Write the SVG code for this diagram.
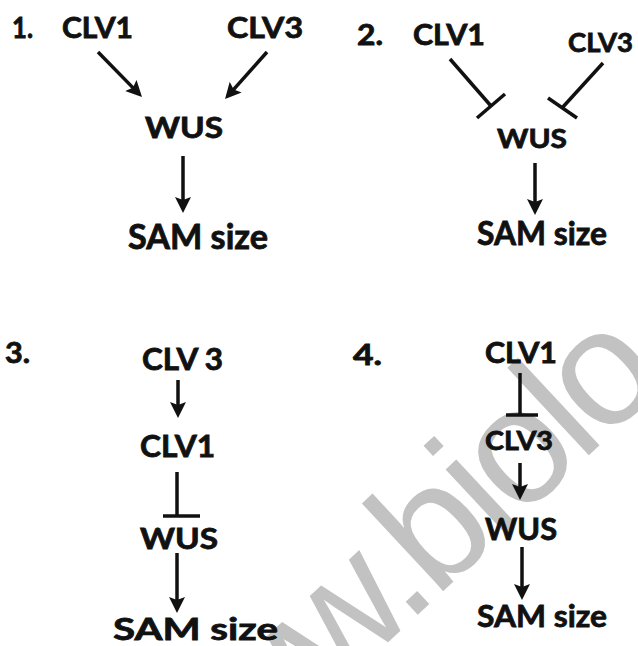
<svg xmlns="http://www.w3.org/2000/svg" width="638" height="646" viewBox="0 0 638 646">
<style>
  .lbl { font-family: Lato, "Liberation Sans", sans-serif; font-weight: bold; fill: #111; stroke: #111; stroke-width: 0.8; }
  .edge { stroke: #111; stroke-width: 3.5; fill: none; stroke-linecap: butt; }
  .arrow { marker-end: url(#ah); }
  .wm { font-family: "Liberation Sans", Arial, sans-serif; fill: #c2c2c2; }
</style>
<defs>
  <marker id="ah" viewBox="0 0 16 16" refX="12" refY="8" markerWidth="16" markerHeight="16" markerUnits="userSpaceOnUse" orient="auto">
    <path d="M0,0 L16,8 L0,16 L3,8 z" fill="#111"/>
  </marker>
</defs>
<rect width="638" height="646" fill="#ffffff"/>
<text class="wm" font-size="165" letter-spacing="-7" transform="translate(167.3,848.3) rotate(-43)">www.biolo</text>

<g id="panel1">
  <g id="p1-num"><text class="lbl" x="12" y="38" font-size="28" textLength="21" lengthAdjust="spacingAndGlyphs">1.</text></g>
  <g id="p1-clv1"><text class="lbl" x="62" y="38" font-size="28" textLength="71" lengthAdjust="spacingAndGlyphs">CLV1</text></g>
  <g id="p1-clv3"><text class="lbl" x="227" y="38" font-size="28" textLength="76" lengthAdjust="spacingAndGlyphs">CLV3</text></g>
  <g id="p1-wus"><text class="lbl" x="145" y="138" font-size="28" textLength="78" lengthAdjust="spacingAndGlyphs">WUS</text></g>
  <g id="p1-sam"><text class="lbl" x="128" y="249" font-size="34" textLength="140" lengthAdjust="spacingAndGlyphs">SAM size</text></g>
</g>
<g id="panel2">
  <g id="p2-num"><text class="lbl" x="357" y="45" font-size="28" textLength="26" lengthAdjust="spacingAndGlyphs">2.</text></g>
  <g id="p2-clv1"><text class="lbl" x="413" y="45" font-size="28" textLength="72" lengthAdjust="spacingAndGlyphs">CLV1</text></g>
  <g id="p2-clv3"><text class="lbl" x="568" y="52" font-size="26" textLength="65" lengthAdjust="spacingAndGlyphs">CLV3</text></g>
  <g id="p2-wus"><text class="lbl" x="497" y="148" font-size="27" textLength="70" lengthAdjust="spacingAndGlyphs">WUS</text></g>
  <g id="p2-sam"><text class="lbl" x="477" y="245" font-size="32" textLength="130" lengthAdjust="spacingAndGlyphs">SAM size</text></g>
</g>
<g id="panel3">
  <g id="p3-num"><text class="lbl" x="5" y="363" font-size="28" textLength="25" lengthAdjust="spacingAndGlyphs">3.</text></g>
  <g id="p3-clv3"><text class="lbl" x="142" y="370" font-size="30" textLength="81" lengthAdjust="spacingAndGlyphs">CLV 3</text></g>
  <g id="p3-clv1"><text class="lbl" x="140" y="457" font-size="30" textLength="75" lengthAdjust="spacingAndGlyphs">CLV1</text></g>
  <g id="p3-wus"><text class="lbl" x="140" y="549" font-size="28" textLength="78" lengthAdjust="spacingAndGlyphs">WUS</text></g>
  <g id="p3-sam"><text class="lbl" x="113" y="640" font-size="31" textLength="165" lengthAdjust="spacingAndGlyphs">SAM size</text></g>
</g>
<g id="panel4">
  <g id="p4-num"><text class="lbl" x="353" y="365" font-size="28" textLength="29" lengthAdjust="spacingAndGlyphs">4.</text></g>
  <g id="p4-clv1"><text class="lbl" x="485" y="363" font-size="28" textLength="72" lengthAdjust="spacingAndGlyphs">CLV1</text></g>
  <g id="p4-clv3"><text class="lbl" x="485" y="450" font-size="26" textLength="68" lengthAdjust="spacingAndGlyphs">CLV3</text></g>
  <g id="p4-wus"><text class="lbl" x="485" y="540" font-size="30" textLength="72" lengthAdjust="spacingAndGlyphs">WUS</text></g>
  <g id="p4-sam"><text class="lbl" x="477" y="627" font-size="31" textLength="130" lengthAdjust="spacingAndGlyphs">SAM size</text></g>
</g>

<g id="connectors">
  <!-- panel 1 -->
  <line class="edge arrow" x1="98" y1="52" x2="139.2" y2="94.1"/>
  <line class="edge arrow" x1="267" y1="52" x2="227.7" y2="96.1"/>
  <line class="edge arrow" x1="183" y1="156" x2="183" y2="209"/>
  <!-- panel 2 -->
  <line class="edge" x1="450" y1="59" x2="491" y2="106"/>
  <line class="edge" x1="477" y1="118" x2="505" y2="94"/>
  <line class="edge" x1="603" y1="63" x2="562" y2="108"/>
  <line class="edge" x1="548" y1="98" x2="577" y2="118"/>
  <line class="edge arrow" x1="535" y1="163" x2="535" y2="211"/>
  <!-- panel 3 -->
  <line class="edge arrow" x1="178" y1="380" x2="178" y2="414"/>
  <line class="edge" x1="177" y1="472" x2="177" y2="516"/>
  <line class="edge" x1="163" y1="516" x2="200" y2="516"/>
  <line class="edge arrow" x1="177" y1="553" x2="177" y2="609"/>
  <!-- panel 4 -->
  <line class="edge" x1="520" y1="373" x2="520" y2="415"/>
  <line class="edge" x1="506" y1="415" x2="538" y2="415"/>
  <line class="edge arrow" x1="520" y1="463" x2="520" y2="496"/>
  <line class="edge arrow" x1="522" y1="547" x2="522" y2="596"/>
</g>
</svg>
